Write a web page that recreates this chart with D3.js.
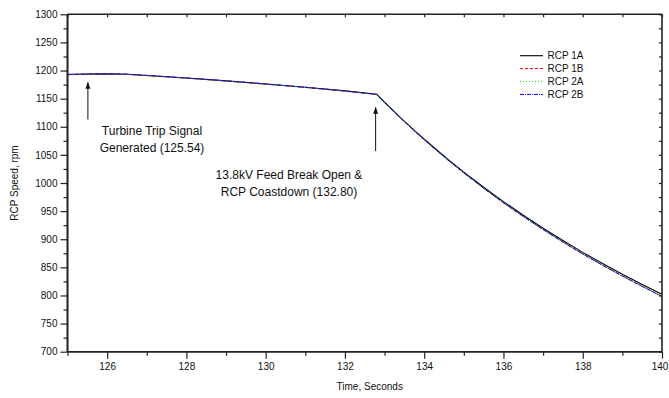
<!DOCTYPE html>
<html>
<head>
<meta charset="utf-8">
<script src="https://cdn.jsdelivr.net/npm/d3@7"></script>
<style>
  html, body { margin: 0; padding: 0; background: #fff; }
  svg { display: block; font-family: "Liberation Sans", Arial, sans-serif; }
</style>
</head>
<body>
<svg id="chart" width="669" height="398"></svg>
<script>
// Time base (seconds) shared by all four pump speed traces
const time = [125.0, 125.5, 126.0, 126.5, 127.0, 128.0, 129.0, 130.0, 131.0, 132.0, 132.8,
              133.0, 133.4, 133.8, 134.2, 134.6, 135.0, 135.5, 136.0, 136.5, 137.0,
              137.5, 138.0, 138.5, 139.0, 139.5, 140.0];

// Reactor coolant pump speeds, rpm
const rcp1A = [1193.0, 1193.6, 1194.0, 1193.4, 1191.2, 1186.6, 1181.6, 1176.0, 1170.2, 1163.8, 1157.8,
               1143.6, 1116.4, 1090.4, 1065.8, 1042.0, 1019.4, 992.4, 966.8, 942.6, 919.6,
               897.6, 876.6, 856.8, 837.8, 819.6, 802.0];
const rcp1B = [1192.6, 1193.2, 1193.8, 1193.0, 1191.0, 1186.4, 1181.4, 1175.8, 1170.0, 1163.4, 1157.4,
               1143.0, 1115.6, 1089.4, 1064.6, 1040.6, 1017.8, 990.6, 964.8, 940.4, 917.2,
               895.0, 873.8, 853.8, 834.6, 816.2, 798.4];
const rcp2A = [1192.8, 1193.4, 1193.8, 1193.2, 1191.0, 1186.4, 1181.4, 1175.8, 1169.8, 1163.4, 1157.4,
               1143.0, 1115.8, 1089.6, 1064.8, 1040.8, 1018.0, 990.8, 965.0, 940.6, 917.4,
               895.2, 874.0, 854.0, 834.8, 816.4, 798.6];
const rcp2B = [1193.2, 1193.8, 1194.2, 1193.6, 1191.4, 1186.8, 1181.8, 1176.2, 1170.2, 1163.8, 1157.6,
               1143.2, 1115.8, 1089.6, 1064.8, 1040.8, 1018.0, 990.8, 964.8, 940.4, 917.2,
               895.0, 873.8, 853.8, 834.6, 816.2, 798.2];

const seriesNames = ["RCP 1A", "RCP 1B", "RCP 2A", "RCP 2B"];
const seriesValues = [rcp1A, rcp1B, rcp2A, rcp2B];

// Axis tick values
const xTicks = [126, 128, 130, 132, 134, 136, 138, 140];
const xMinorTicks = [125, 127, 129, 131, 133, 135, 137, 139];
const yTicks = [700, 750, 800, 850, 900, 950, 1000, 1050, 1100, 1150, 1200, 1250, 1300];
const yMinorTicks = [725, 775, 825, 875, 925, 975, 1025, 1075, 1125, 1175, 1225, 1275];

// Event annotations: time of event, label lines
const eventTimes = [125.54, 132.80];
const eventLabels = [["Turbine Trip Signal", "Generated (125.54)"],
                     ["13.8kV Feed Break Open &", "RCP Coastdown (132.80)"]];

const margin = { left: 67.5, right: 7, top: 14.3, bottom: 46.3 };
const W = 669, H = 398;
const svg = d3.select("#chart");

const x = d3.scaleLinear().domain([125, 140]).range([margin.left, W - margin.right]);
const y = d3.scaleLinear().domain([700, 1300]).range([H - margin.bottom, margin.top]);

const axisColor = "#222";
const styles = [
  { color: "#000000", dash: null, width: 1.1 },
  { color: "#ff0000", dash: "3,2", width: 1 },
  { color: "#00ee00", dash: "1,2", width: 1.2 },
  { color: "#0000ff", dash: "4,1,1,1", width: 1 }
];

// Data traces
const line = d3.line().x(d => x(d[0])).y(d => y(d[1]));
const plot = svg.append("g");
seriesValues.forEach((vals, i) => {
  plot.append("path")
    .datum(time.map((t, k) => [t, vals[k]]))
    .attr("d", line)
    .attr("fill", "none")
    .attr("stroke", styles[i].color)
    .attr("stroke-width", styles[i].width)
    .attr("stroke-dasharray", styles[i].dash);
});

// Bottom axis: major labelled ticks and minor ticks, outward
const gx = svg.append("g").attr("transform", `translate(0,${H - margin.bottom})`);
gx.call(d3.axisBottom(x).tickValues(xTicks).tickSize(7).tickPadding(4).tickFormat(d3.format("d")));
gx.append("g").call(d3.axisBottom(x).tickValues(xMinorTicks).tickSize(4).tickFormat(""));
// keep the last label inside the page edge
gx.selectAll(".tick text").filter(d => d === 140).attr("dx", -2.5);
// Left axis
const gy = svg.append("g").attr("transform", `translate(${margin.left},0)`);
gy.call(d3.axisLeft(y).tickValues(yTicks).tickSize(7).tickPadding(3).tickFormat(d3.format("d")));
gy.append("g").call(d3.axisLeft(y).tickValues(yMinorTicks).tickSize(4).tickFormat(""));
// Top and right frame with inward ticks
const gt = svg.append("g").attr("transform", `translate(0,${margin.top})`);
gt.call(d3.axisTop(x).tickValues(xTicks.concat(xMinorTicks)).tickSize(-3).tickFormat(""));
const gr = svg.append("g").attr("transform", `translate(${W - margin.right},0)`);
gr.call(d3.axisRight(y).tickValues(yTicks.concat(yMinorTicks)).tickSize(-3).tickFormat(""));

[gx, gy, gt, gr].forEach(g => {
  g.selectAll(".domain").attr("stroke", axisColor).attr("stroke-width", 1.6);
  g.selectAll(".tick line").attr("stroke", axisColor).attr("stroke-width", 1.2);
  g.selectAll("text").attr("fill", "#111").style("font-size", "10px")
    .style("font-family", "'Liberation Sans', Arial, sans-serif");
});
gt.selectAll(".domain").attr("d", `M${margin.left},0H${W - margin.right}`);
gr.selectAll(".domain").attr("d", `M0,${margin.top}V${H - margin.bottom}`);
gx.selectAll(".domain").attr("d", `M${margin.left},0H${W - margin.right}`);
gy.selectAll(".domain").attr("d", `M0,${margin.top}V${H - margin.bottom}`);

// Axis titles
svg.append("text")
  .attr("x", (margin.left + W - margin.right) / 2 + 5).attr("y", 390)
  .attr("text-anchor", "middle").style("font-size", "10px").attr("fill", "#111")
  .text("Time, Seconds");
svg.append("text")
  .attr("transform", `translate(18,${(margin.top + H - margin.bottom) / 2}) rotate(-90)`)
  .attr("text-anchor", "middle").style("font-size", "10px").attr("fill", "#111")
  .text("RCP Speed, rpm");

// Legend
const legend = svg.append("g");
seriesNames.forEach((name, i) => {
  const ly = 55.7 + i * 12.9;
  legend.append("line")
    .attr("x1", 520).attr("x2", 543).attr("y1", ly).attr("y2", ly)
    .attr("stroke", styles[i].color).attr("stroke-width", styles[i].width)
    .attr("stroke-dasharray", styles[i].dash);
  legend.append("text")
    .attr("x", 547.5).attr("y", ly + 3.6)
    .style("font-size", "10px").attr("fill", "#111")
    .text(name);
});

// Event arrows and labels
svg.append("defs").append("marker")
  .attr("id", "arrowhead").attr("viewBox", "0 0 10 10")
  .attr("refX", 9).attr("refY", 5)
  .attr("markerWidth", 7).attr("markerHeight", 7)
  .attr("markerUnits", "userSpaceOnUse")
  .attr("orient", "auto")
  .append("path").attr("d", "M0,1.5L10,5L0,8.5Z").attr("fill", "#111");

const arrowSpecs = [
  { y0: 119.5, y1: 82.5, tx: 152, ty: 135 },
  { y0: 151, y1: 107.5, tx: 289, ty: 178.5 }
];
eventTimes.forEach((t, i) => {
  const s = arrowSpecs[i];
  svg.append("line")
    .attr("x1", x(t) - 1).attr("x2", x(t) - 1)
    .attr("y1", s.y0).attr("y2", s.y1)
    .attr("stroke", "#111").attr("stroke-width", 1)
    .attr("marker-end", "url(#arrowhead)");
  const txt = svg.append("text")
    .attr("x", s.tx).attr("y", s.ty)
    .attr("text-anchor", "middle")
    .style("font-size", "12px").attr("fill", "#111");
  eventLabels[i].forEach((ln, k) => {
    txt.append("tspan").attr("x", s.tx).attr("dy", k === 0 ? 0 : 17.3).text(ln);
  });
});
</script>
</body>
</html>
